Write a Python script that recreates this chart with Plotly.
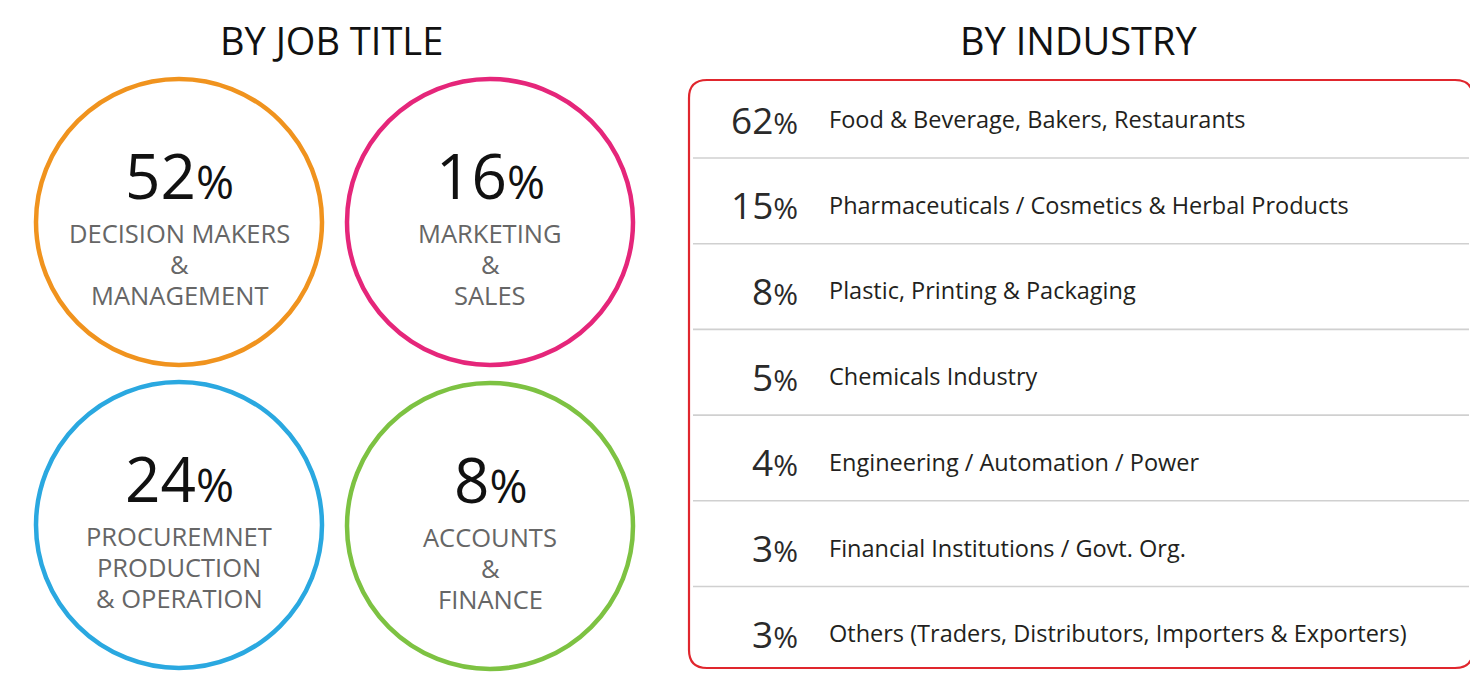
import plotly.graph_objects as go

W, H = 1478, 676
OFF = 8  # page body margin in the browser

# ---------------- data ----------------
job_pcts = ["52", "16", "24", "8"]
job_labels = [
    ["DECISION MAKERS", "&", "MANAGEMENT"],
    ["MARKETING", "&", "SALES"],
    ["PROCUREMNET", "PRODUCTION", "& OPERATION"],
    ["ACCOUNTS", "&", "FINANCE"],
]
job_colors = ["#F0931E", "#E5267A", "#2AA8E0", "#7DC242"]

industry_pcts = ["62", "15", "8", "5", "4", "3", "3"]
industry_labels = [
    "Food & Beverage, Bakers, Restaurants",
    "Pharmaceuticals / Cosmetics & Herbal Products",
    "Plastic, Printing & Packaging",
    "Chemicals Industry",
    "Engineering / Automation / Power",
    "Financial Institutions / Govt. Org.",
    "Others (Traders, Distributors, Importers & Exporters)",
]

FONT = "Open Sans"

# ---------------- layout geometry ----------------
circle_cx = [179, 490, 179, 490]
circle_cy = [222, 222, 525, 526]
R = 143

box_x0, box_x1, box_y0, box_y1 = 689, 1473, 80, 668
row_step = 85.7
row_y0 = 119
sep_y0 = 158

fig = go.Figure()
shapes = []
annotations = []

# Titles
for tx, ttl in [(331, "BY JOB TITLE"), (1078, "BY INDUSTRY")]:
    annotations.append(dict(x=tx, y=40, text=ttl, showarrow=False,
                            font=dict(family=FONT, size=38, color="#111"),
                            xanchor="center", yanchor="middle"))

# Circles
for cx, cy, col, pct, lab in zip(circle_cx, circle_cy, job_colors, job_pcts, job_labels):
    shapes.append(dict(type="circle", xref="x", yref="y",
                       x0=cx - R, x1=cx + R, y0=cy - R, y1=cy + R,
                       line=dict(color=col, width=4.5), fillcolor="white"))
    annotations.append(dict(x=cx, y=cy - 47,
                            text=pct + '<span style="font-size:46px">%</span>',
                            showarrow=False, xanchor="center", yanchor="middle",
                            font=dict(family=FONT, size=62, color="#111")))
    for k, line in enumerate(lab):
        annotations.append(dict(x=cx, y=cy + 11 + 31 * k, text=line,
                                showarrow=False, xanchor="center", yanchor="middle",
                                font=dict(family=FONT, size=25.5, color="#666")))

# Rounded rectangle border
r = 18
path = (f"M {box_x0 + r},{box_y0} L {box_x1 - r},{box_y0} "
        f"Q {box_x1},{box_y0} {box_x1},{box_y0 + r} L {box_x1},{box_y1 - r} "
        f"Q {box_x1},{box_y1} {box_x1 - r},{box_y1} L {box_x0 + r},{box_y1} "
        f"Q {box_x0},{box_y1} {box_x0},{box_y1 - r} L {box_x0},{box_y0 + r} "
        f"Q {box_x0},{box_y0} {box_x0 + r},{box_y0} Z")
shapes.append(dict(type="path", path=path, xref="x", yref="y",
                   line=dict(color="#E0262D", width=2.2)))

# Separators
for i in range(len(industry_labels) - 1):
    y = sep_y0 + row_step * i
    shapes.append(dict(type="line", xref="x", yref="y",
                       x0=box_x0 + 4, x1=box_x1 - 4, y0=y, y1=y,
                       line=dict(color="#d0d0d0", width=1.6)))

# Industry rows
for i, (pct, lab) in enumerate(zip(industry_pcts, industry_labels)):
    yy = row_y0 + row_step * i
    annotations.append(dict(x=800, y=yy, text=pct + '<span style="font-size:30px">%</span>',
                            showarrow=False, xanchor="right", yanchor="middle",
                            font=dict(family=FONT, size=37, color="#2a2a2a")))
    annotations.append(dict(x=827, y=yy, text=lab, showarrow=False,
                            xanchor="left", yanchor="middle",
                            font=dict(family=FONT, size=23.5, color="#231F20")))

fig.update_layout(
    width=W - OFF, height=H - OFF,
    margin=dict(l=0, r=0, t=0, b=0),
    paper_bgcolor="white", plot_bgcolor="white",
    xaxis=dict(range=[OFF, W], visible=False, fixedrange=True),
    yaxis=dict(range=[H, OFF], visible=False, fixedrange=True),
    shapes=shapes, annotations=annotations, showlegend=False,
)

fig.write_html("out.html")
